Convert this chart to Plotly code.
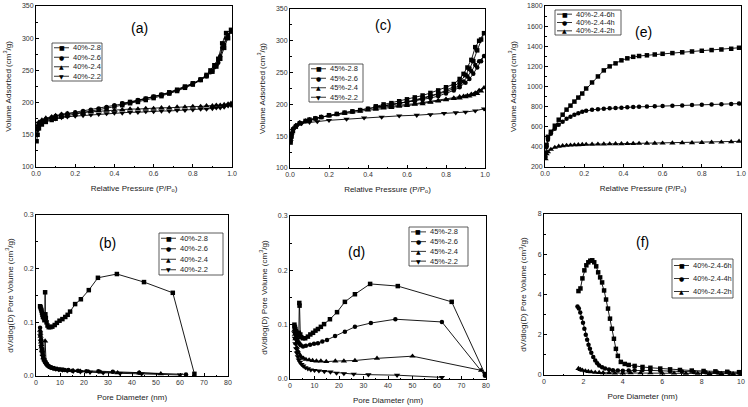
import plotly.graph_objects as go

W, H = 748, 407
FONT = "Liberation Sans"

# ---------------- (a) 40% isotherms ----------------
ADS_P = [0.003, 0.008, 0.015, 0.03, 0.05, 0.08, 0.1, 0.13, 0.16, 0.2,
         0.24, 0.28, 0.32, 0.36, 0.4, 0.44, 0.48, 0.52, 0.56, 0.6,
         0.64, 0.68, 0.72, 0.76, 0.8, 0.84, 0.87, 0.9, 0.92, 0.94,
         0.96, 0.98, 0.995]
DES_P = [0.97, 0.95, 0.93, 0.91, 0.89, 0.87, 0.84, 0.8, 0.76, 0.72,
         0.68, 0.64, 0.6, 0.56, 0.52, 0.48, 0.44]

A_LABELS = ["40%-2.8", "40%-2.6", "40%-2.4", "40%-2.2"]
A_28_ADS = [140, 150, 160, 166, 170, 173, 175, 178, 180, 182,
            185, 187, 189, 191, 194, 196, 199, 201, 204, 207,
            210, 214, 218, 223, 228, 235, 241, 248, 256, 268,
            285, 300, 313]
A_28_DES = [308, 292, 268, 258, 250, 243, 236, 230, 225, 220,
            216, 212, 209, 206, 203, 201, 198]
A_26_ADS = [150, 158, 165, 170, 174, 177, 179, 181, 183, 185,
            187, 189, 191, 193, 196, 198, 200, 203, 206, 209,
            212, 215, 219, 224, 229, 236, 242, 249, 258, 272,
            290, 305, 310]
A_26_DES = [300, 285, 262, 255, 247, 241, 235, 229, 224, 219,
            215, 212, 209, 206, 204, 201, 199]
A_24 = [160, 165, 170, 173, 176, 178, 180, 182, 183, 184,
        185, 186, 187, 188, 188, 189, 190, 190, 191, 191,
        192, 192, 193, 193, 194, 194, 195, 195, 196, 196,
        197, 198, 199]
A_22 = [150, 158, 168, 170, 172, 174, 175, 177, 178, 179,
        180, 181, 182, 183, 184, 184, 185, 185, 186, 186,
        187, 187, 188, 188, 189, 190, 190, 191, 192, 192,
        193, 195, 196]

# ---------------- (c) 45% isotherms ----------------
C_LABELS = ["45%-2.8", "45%-2.6", "45%-2.4", "45%-2.2"]
C_28_ADS = [140, 150, 158, 165, 170, 174, 176, 178, 180, 183,
            185, 187, 189, 191, 193, 195, 197, 199, 202, 204,
            207, 210, 213, 217, 222, 228, 235, 246, 256, 268,
            285, 302, 312]
C_28_DES = [300, 290, 270, 258, 248, 240, 232, 227, 222, 218,
            214, 211, 208, 205, 202, 200, 197]
C_26_ADS = [142, 152, 160, 166, 171, 174, 176, 178, 180, 183,
            185, 187, 189, 191, 193, 195, 197, 199, 201, 203,
            205, 207, 210, 213, 217, 222, 227, 234, 240, 248,
            258, 268, 276]
C_26_DES = [268, 262, 252, 244, 236, 230, 225, 220, 216, 212,
            209, 206, 204, 202, 200, 198, 196]
C_24_ADS = [145, 155, 162, 167, 171, 174, 176, 178, 180, 182,
            184, 186, 188, 189, 191, 192, 194, 195, 197, 198,
            200, 201, 203, 205, 207, 209, 210, 212, 213, 215,
            217, 221, 226]
C_24_DES = [222, 218, 216, 214, 213, 212, 210, 208, 206, 204,
            203, 201, 200, 198, 197, 196, 194]
C_22_P = [0.003, 0.01, 0.02, 0.04, 0.06, 0.1, 0.14, 0.2, 0.29, 0.38,
          0.47, 0.56, 0.65, 0.72, 0.79, 0.85, 0.9, 0.95, 0.995]
C_22_V = [145, 155, 162, 168, 170, 172, 173, 175, 177, 179,
          180, 182, 183, 184, 186, 187, 188, 190, 193]

# ---------------- (e) 40%-2.4 time series isotherms ----------------
E_LABELS = ["40%-2.4-6h", "40%-2.4-4h", "40%-2.4-2h"]
E_P = [0.003, 0.008, 0.015, 0.03, 0.05, 0.07, 0.09, 0.11, 0.13, 0.15,
       0.17, 0.19, 0.21, 0.24, 0.27, 0.3, 0.33, 0.36, 0.39, 0.42,
       0.45, 0.48, 0.52, 0.56, 0.6, 0.65, 0.7, 0.75, 0.8, 0.85,
       0.9, 0.95, 0.99]
E_6H = [340, 420, 500, 550, 610, 670, 720, 770, 810, 850,
        890, 930, 980, 1040, 1100, 1160, 1200, 1230, 1260, 1280,
        1295, 1303, 1310, 1318, 1325, 1332, 1340, 1348, 1355, 1362,
        1368, 1375, 1385]
E_4H = [300, 400, 470, 530, 580, 620, 650, 680, 700, 720,
        735, 748, 758, 768, 775, 780, 784, 787, 790, 793,
        796, 798, 801, 804, 806, 809, 812, 815, 818, 820,
        823, 826, 830]
E_2H = [280, 330, 350, 375, 395, 405, 410, 414, 417, 419,
        421, 423, 424, 426, 427, 428, 429, 430, 431, 432,
        433, 434, 435, 436, 437, 438, 440, 441, 443, 445,
        447, 450, 455]

# ---------------- (b) 40% pore size distribution ----------------
B_28_D = [1.7, 1.9, 2.1, 2.3, 2.5, 2.7, 2.9, 3.1, 3.3, 3.5, 3.7, 3.8, 3.9, 4.1,
          4.4, 4.8, 5.3, 6.0, 6.8, 7.8, 8.7, 9.8, 11.0, 12.2, 13.2, 14.2, 16.3,
          18.7, 22.0, 25.8, 33.7, 45.0, 57.0, 66.0]
B_28_V = [0.130, 0.128, 0.125, 0.122, 0.118, 0.114, 0.110, 0.112, 0.108, 0.104,
          0.110, 0.156, 0.115, 0.108, 0.100, 0.094, 0.091, 0.091, 0.092, 0.095,
          0.099, 0.103, 0.106, 0.110, 0.114, 0.120, 0.134, 0.143, 0.160, 0.183,
          0.190, 0.175, 0.155, 0.004]
B_26_D = [1.7, 1.9, 2.1, 2.3, 2.5, 2.7, 3.0, 3.3, 3.6, 4.0, 4.5, 5.0, 5.6, 6.3,
          7.0, 7.8, 8.7, 9.7, 10.8, 12.0, 13.5, 15.2, 17.5, 21.0, 26.0, 32.0,
          43.0, 62.5]
B_26_V = [0.090, 0.080, 0.068, 0.058, 0.050, 0.043, 0.036, 0.031, 0.027, 0.024,
          0.021, 0.019, 0.017, 0.016, 0.015, 0.014, 0.013, 0.012, 0.012, 0.011,
          0.011, 0.010, 0.010, 0.009, 0.009, 0.008, 0.006, 0.003]
B_24_D = [1.7, 1.9, 2.1, 2.3, 2.5, 2.8, 3.1, 3.5, 3.8, 4.2, 4.7, 5.3, 6.0, 6.8,
          7.7, 8.8, 10.0, 11.5, 13.2, 15.5, 18.5, 22.0, 27.0, 34.0, 43.0, 52.0]
B_24_V = [0.085, 0.074, 0.063, 0.054, 0.047, 0.040, 0.034, 0.030, 0.065, 0.026,
          0.022, 0.019, 0.017, 0.015, 0.014, 0.013, 0.012, 0.011, 0.010, 0.010,
          0.009, 0.008, 0.007, 0.006, 0.006, 0.004]
B_22_D = [1.8, 2.0, 2.2, 2.5, 2.8, 3.2, 3.6, 4.1, 4.7, 5.4, 6.2, 7.1, 8.2, 9.5,
          11.0, 13.0, 15.5, 18.5, 22.5, 28.0, 35.0, 44.0, 60.0]
B_22_V = [0.075, 0.065, 0.055, 0.045, 0.037, 0.031, 0.027, 0.023, 0.020, 0.018,
          0.016, 0.014, 0.013, 0.012, 0.011, 0.010, 0.009, 0.008, 0.007, 0.006,
          0.005, 0.004, 0.002]

# ---------------- (d) 45% pore size distribution ----------------
D_28_D = [1.8, 2.0, 2.2, 2.4, 2.7, 3.0, 3.3, 3.6, 3.8, 3.9, 4.2, 4.6, 5.3, 6.2,
          7.3, 8.3, 9.4, 10.4, 11.4, 12.6, 13.9, 16.3, 19.2, 22.4, 26.5, 32.7,
          44.0, 66.0, 79.6]
D_28_V = [0.100, 0.096, 0.092, 0.088, 0.085, 0.082, 0.080, 0.085, 0.140, 0.135,
          0.082, 0.077, 0.075, 0.075, 0.078, 0.082, 0.085, 0.089, 0.092, 0.096,
          0.101, 0.110, 0.123, 0.142, 0.156, 0.175, 0.171, 0.142, 0.009]
D_26_D = [1.8, 2.0, 2.2, 2.5, 2.8, 3.1, 3.5, 3.9, 4.4, 5.3, 6.5, 8.2, 9.8, 11.4,
          13.2, 15.1, 18.4, 22.4, 26.5, 33.0, 43.0, 62.0, 79.6]
D_26_V = [0.095, 0.090, 0.085, 0.080, 0.075, 0.070, 0.067, 0.065, 0.062, 0.060,
          0.061, 0.063, 0.065, 0.066, 0.069, 0.072, 0.079, 0.087, 0.096, 0.103,
          0.110, 0.105, 0.006]
D_24_D = [1.8, 2.0, 2.2, 2.5, 2.8, 3.2, 3.6, 4.1, 4.7, 5.5, 6.5, 7.8, 9.2, 10.8,
          12.6, 14.8, 18.5, 22.0, 26.5, 35.5, 50.0, 78.0]
D_24_V = [0.090, 0.082, 0.074, 0.066, 0.058, 0.052, 0.047, 0.043, 0.040, 0.038,
          0.036, 0.035, 0.034, 0.033, 0.033, 0.032, 0.033, 0.033, 0.034, 0.038,
          0.042, 0.016]
D_22_D = [1.8, 2.0, 2.2, 2.5, 2.8, 3.2, 3.6, 4.1, 4.7, 5.4, 6.3, 7.3, 8.5, 10.0,
          11.8, 14.0, 16.5, 19.0, 22.0, 26.0, 32.0, 43.7, 62.0]
D_22_V = [0.085, 0.075, 0.065, 0.056, 0.048, 0.041, 0.035, 0.031, 0.027, 0.024,
          0.021, 0.019, 0.017, 0.016, 0.015, 0.014, 0.013, 0.011, 0.010, 0.009,
          0.008, 0.007, 0.003]

# ---------------- (f) 40%-2.4 time series PSD ----------------
F_6H_D = [1.75, 1.85, 1.95, 2.05, 2.15, 2.25, 2.35, 2.45, 2.55, 2.65,
          2.75, 2.85, 2.95, 3.05, 3.15, 3.25, 3.35, 3.45, 3.55, 3.65,
          3.75, 3.9, 4.1, 4.3, 4.6, 5.0, 5.4, 5.9, 6.4, 6.9,
          7.5, 8.1, 8.7, 9.3, 9.9]
F_6H_V = [4.17, 4.3, 4.8, 5.2, 5.45, 5.6, 5.68, 5.7, 5.6, 5.4,
          5.1, 4.85, 4.6, 4.2, 3.75, 3.3, 2.8, 2.3, 1.8, 1.3,
          0.95, 0.65, 0.55, 0.5, 0.45, 0.4, 0.36, 0.32, 0.28, 0.25,
          0.22, 0.2, 0.18, 0.16, 0.14]
F_4H_D = [1.7, 1.77, 1.84, 1.91, 1.98, 2.05, 2.12, 2.19, 2.26, 2.33,
          2.4, 2.5, 2.6, 2.7, 2.8, 2.95, 3.1, 3.3, 3.5, 3.75,
          4.0, 4.3, 4.6, 5.0, 5.4, 5.9, 6.4, 7.0, 7.6, 8.2,
          8.8, 9.4, 10.0]
F_4H_V = [3.4, 3.3, 3.1, 2.85, 2.6, 2.3, 2.0, 1.75, 1.5, 1.3,
          1.1, 0.9, 0.72, 0.58, 0.47, 0.38, 0.32, 0.27, 0.24, 0.22,
          0.21, 0.22, 0.24, 0.25, 0.23, 0.21, 0.19, 0.17, 0.15, 0.14,
          0.12, 0.11, 0.1]
F_2H_D = [1.75, 1.85, 1.95, 2.1, 2.25, 2.4, 2.6, 2.8, 3.0, 3.3,
          3.6, 4.0, 4.4, 4.9, 5.4, 6.0, 6.6, 7.2, 7.8, 8.4,
          9.0, 9.6, 10.0]
F_2H_V = [0.32, 0.27, 0.23, 0.2, 0.17, 0.15, 0.13, 0.12, 0.11, 0.1,
          0.09, 0.09, 0.1, 0.1, 0.1, 0.09, 0.09, 0.08, 0.08, 0.07,
          0.07, 0.06, 0.06]

GLYPHS = ["\u25a0", "\u25cf", "\u25b2", "\u25bc"]

fig = go.Figure()


def add(xs, ys, ax, sym, size=4.5):
    fig.add_trace(go.Scatter(
        x=xs, y=ys, mode="lines+markers", xaxis="x" + ax, yaxis="y" + ax,
        line=dict(color="black", width=0.9),
        marker=dict(symbol=sym, size=size, color="black"),
        showlegend=False, hoverinfo="skip"))


# (a)
add(ADS_P + DES_P, A_28_ADS + A_28_DES, "", "square")
add(ADS_P + DES_P, A_26_ADS + A_26_DES, "", "circle")
add(ADS_P, A_24, "", "triangle-up", 5.5)
add(ADS_P, A_22, "", "triangle-down", 5.5)
# (c)
add(ADS_P + DES_P, C_28_ADS + C_28_DES, "2", "square")
add(ADS_P + DES_P, C_26_ADS + C_26_DES, "2", "circle")
add(ADS_P + DES_P, C_24_ADS + C_24_DES, "2", "triangle-up", 5.5)
add(C_22_P, C_22_V, "2", "triangle-down", 5.5)
# (e)
add(E_P, E_6H, "3", "square")
add(E_P, E_4H, "3", "circle")
add(E_P, E_2H, "3", "triangle-up", 5.5)
# (b)
add(B_28_D, B_28_V, "4", "square")
add(B_26_D, B_26_V, "4", "circle")
add(B_24_D, B_24_V, "4", "triangle-up", 5.5)
add(B_22_D, B_22_V, "4", "triangle-down", 5.5)
# (d)
add(D_28_D, D_28_V, "5", "square")
add(D_26_D, D_26_V, "5", "circle")
add(D_24_D, D_24_V, "5", "triangle-up", 5.5)
add(D_22_D, D_22_V, "5", "triangle-down", 5.5)
# (f)
add(F_6H_D, F_6H_V, "6", "square")
add(F_4H_D, F_4H_V, "6", "circle")
add(F_2H_D, F_2H_V, "6", "triangle-up", 5.5)

# panel boxes in pixels (left, top, right, bottom)
BOXES = {
    "": (36, 6, 232, 167),
    "2": (290, 9, 485, 168),
    "3": (545, 6, 741, 167),
    "4": (36, 215, 228, 376),
    "5": (290, 216, 486, 379),
    "6": (544, 214, 741, 375),
}
ISO_X = "Relative Pressure (P/P<sub>o</sub>)"
ISO_Y = "Volume Adsorbed (cm<sup>3</sup>/g)"
PSD_X = "Pore Diameter (nm)"
PSD_Y = "dV/dlog(D) Pore Volume (cm<sup>3</sup>/g)"
AXES = {
    "": ([0, 1], 0.2, 0.1, [100, 350], 50, 25, ISO_X, ISO_Y, ".1f", "d"),
    "2": ([0, 1], 0.2, 0.1, [100, 350], 50, 25, ISO_X, ISO_Y, ".1f", "d"),
    "3": ([0, 1], 0.2, 0.1, [200, 1800], 200, 100, ISO_X, ISO_Y, ".1f", "d"),
    "4": ([0, 80], 10, 5, [0, 0.3], 0.1, 0.05, PSD_X, PSD_Y, "d", ".1f"),
    "5": ([0, 80], 10, 5, [0, 0.3], 0.1, 0.05, PSD_X, PSD_Y, "d", ".1f"),
    "6": ([0, 10], 2, 1, [0, 8], 2, 1, PSD_X, PSD_Y, "d", "d"),
}

layout = {}
for ax, (l, t, r, b) in BOXES.items():
    xr, xd, xm, yr, yd, ym, xt, yt, xf, yf = AXES[ax]
    base = dict(showline=True, linecolor="black", linewidth=1, mirror=True,
                ticks="inside", ticklen=3, tickwidth=0.8, tickcolor="black",
                showgrid=False, zeroline=False, automargin=False,
                tickfont=dict(family=FONT, size=7, color="#333"))
    layout["xaxis" + ax] = dict(base, domain=[l / W, r / W], range=xr, dtick=xd, tick0=0,
                                tickformat=xf, anchor="y" + ax,
                                minor=dict(ticks="inside", ticklen=1.5, tickcolor="black", dtick=xm, tick0=0),
                                title=dict(text=xt, font=dict(family=FONT, size=8, color="#222"), standoff=8))
    layout["yaxis" + ax] = dict(base, domain=[1 - b / H, 1 - t / H], range=yr, dtick=yd, tick0=0,
                                tickformat=yf, anchor="x" + ax,
                                minor=dict(ticks="inside", ticklen=1.5, tickcolor="black", dtick=ym, tick0=0),
                                title=dict(text=yt, font=dict(family=FONT, size=8, color="#222"), standoff=9))

annotations = []
shapes = []

# panel labels
for ax, txt, xv, yv in [("", "(a)", 0.53, 316), ("2", "(c)", 0.477, 325), ("3", "(e)", 0.5, 1542),
                        ("4", "(b)", 29.6, 0.248), ("5", "(d)", 27.3, 0.234), ("6", "(f)", 5.0, 6.6)]:
    annotations.append(dict(x=xv, y=yv, xref="x" + ax, yref="y" + ax, text=txt, showarrow=False,
                            font=dict(family=FONT, size=14, color="black")))


def legend(box, labels):
    x0, y0, x1, y1 = box
    shapes.append(dict(type="rect", xref="paper", yref="paper", x0=x0 / W, x1=x1 / W,
                       y0=1 - y1 / H, y1=1 - y0 / H, line=dict(color="#333", width=0.8)))
    h = (y1 - y0) / len(labels)
    for i, lab in enumerate(labels):
        yc = y0 + h * (i + 0.5)
        shapes.append(dict(type="line", xref="paper", yref="paper", x0=(x0 + 2) / W, x1=(x0 + 17) / W,
                           y0=1 - yc / H, y1=1 - yc / H, line=dict(color="black", width=0.8)))
        annotations.append(dict(x=(x0 + 9.5) / W, y=1 - yc / H, xref="paper", yref="paper",
                                text=GLYPHS[i], showarrow=False, font=dict(family="DejaVu Sans", size=6, color="black"),
                                xanchor="center", yanchor="middle"))
        annotations.append(dict(x=(x0 + 19) / W, y=1 - yc / H, xref="paper", yref="paper",
                                text=lab, showarrow=False, font=dict(family=FONT, size=7.5, color="#222"),
                                xanchor="left", yanchor="middle"))


legend((52, 43, 102, 81), A_LABELS)
legend((309, 64, 363, 102), C_LABELS)
legend((555, 10, 621, 35), E_LABELS)
legend((159, 233, 223, 275), A_LABELS)
legend((409, 227, 468, 266), C_LABELS)
legend((672, 259, 733, 298), E_LABELS)

fig.update_layout(**layout)
fig.update_layout(width=W, height=H, margin=dict(l=0, r=0, t=0, b=0),
                  paper_bgcolor="white", plot_bgcolor="white",
                  annotations=annotations, shapes=shapes, showlegend=False)
fig.write_html("out.html")
